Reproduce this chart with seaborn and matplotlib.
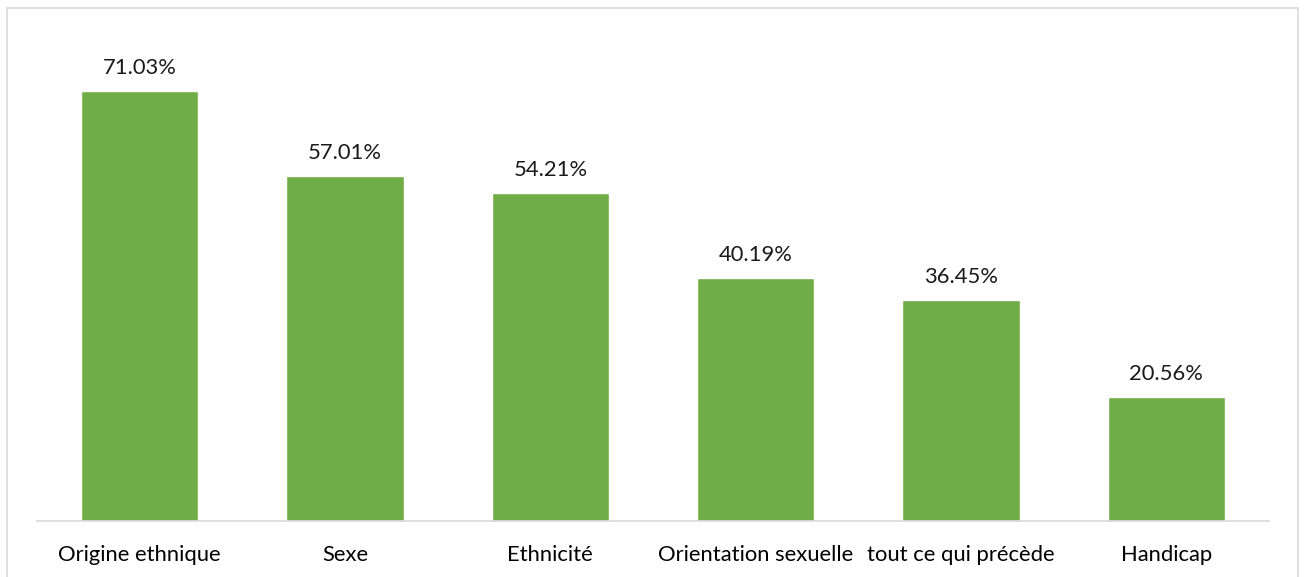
import matplotlib
matplotlib.use("Agg")
import matplotlib.pyplot as plt
import matplotlib.patches as mpatches
import seaborn as sns
import pandas as pd

categories = ["Origine ethnique", "Sexe", "Ethnicité", "Orientation sexuelle",
              "tout ce qui précède", "Handicap"]
values = [71.03, 57.01, 54.21, 40.19, 36.45, 20.56]

sns.set_theme(style="white")
plt.rcParams["font.family"] = ["Lato", "DejaVu Sans"]

W, H = 1306, 577
fig = plt.figure(figsize=(W / 100, H / 100), dpi=100)
ax = fig.add_axes([37 / W, (H - 521) / H, (1269 - 37) / W, (521 - 39) / H])

df = pd.DataFrame({"cat": categories, "val": values})
sns.barplot(data=df, x="cat", y="val", color="#70AD47", saturation=1,
            width=0.57, ax=ax)

for i, v in enumerate(values):
    ax.annotate(f"{v:.2f}%", (i, v), xytext=(0, 16.5), textcoords="offset points",
                ha="center", va="center", fontsize=15.8, color="#1a1a1a")

ax.set_xlim(-0.5, len(categories) - 0.5)
ax.set_ylim(0, 79.6)
ax.set_xlabel("")
ax.set_ylabel("")
ax.set_yticks([])
ax.tick_params(axis="x", length=0, pad=17.5, labelsize=15.8, labelcolor="#000000")
for s in ["top", "left", "right"]:
    ax.spines[s].set_visible(False)
ax.spines["bottom"].set_color("#D9D9D9")
ax.spines["bottom"].set_linewidth(1.2)

# outer chart frame
fig.patches.append(mpatches.Rectangle((7 / W, -0.01), (1298 - 7) / W, (H - 8) / H + 0.01,
                                      transform=fig.transFigure, fill=False,
                                      edgecolor="#D9D9D9", linewidth=1.2))

fig.savefig("out.png", dpi=100)
